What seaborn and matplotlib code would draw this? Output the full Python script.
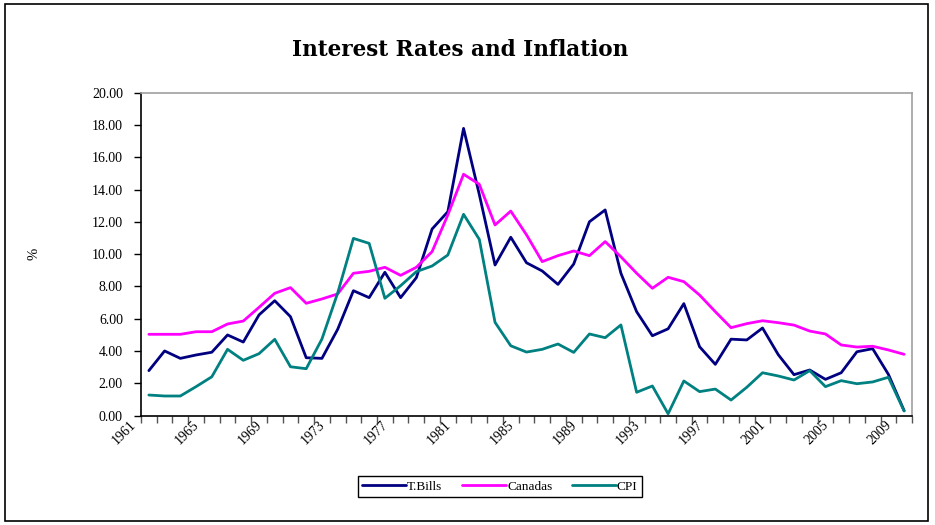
import matplotlib
matplotlib.use("Agg")
import matplotlib.pyplot as plt
import matplotlib.transforms as mtransforms
from matplotlib.patches import Rectangle
from matplotlib.ticker import FixedLocator, NullFormatter
import seaborn as sns
import pandas as pd
import numpy as np

# Annual averages, 1961-2009 (percent)
years = list(range(1961, 2010))

t_bills = [2.79, 4.01, 3.55, 3.76, 3.93, 5.00, 4.56, 6.24, 7.12, 6.13,
           3.59, 3.55, 5.35, 7.74, 7.31, 8.88, 7.31, 8.55, 11.56, 12.63,
           17.79, 13.70, 9.33, 11.05, 9.47, 8.96, 8.13, 9.39, 12.01, 12.74,
           8.82, 6.44, 4.95, 5.38, 6.94, 4.27, 3.18, 4.74, 4.69, 5.43,
           3.78, 2.54, 2.83, 2.25, 2.66, 3.96, 4.15, 2.56, 0.31]

canadas = [5.04, 5.04, 5.04, 5.20, 5.20, 5.68, 5.86, 6.71, 7.58, 7.93,
           6.96, 7.23, 7.54, 8.82, 8.94, 9.19, 8.69, 9.19, 10.16, 12.43,
           14.95, 14.33, 11.81, 12.67, 11.20, 9.54, 9.91, 10.20, 9.91, 10.78,
           9.84, 8.82, 7.89, 8.57, 8.30, 7.47, 6.44, 5.45, 5.70, 5.88,
           5.76, 5.61, 5.24, 5.06, 4.38, 4.25, 4.30, 4.07, 3.80]

cpi = [1.28, 1.22, 1.22, 1.80, 2.41, 4.11, 3.43, 3.84, 4.73, 3.03,
       2.91, 4.75, 7.60, 10.98, 10.67, 7.27, 8.05, 8.92, 9.27, 9.95,
       12.47, 10.92, 5.78, 4.33, 3.94, 4.11, 4.44, 3.92, 5.06, 4.83,
       5.62, 1.45, 1.84, 0.12, 2.15, 1.49, 1.65, 0.97, 1.76, 2.66,
       2.46, 2.21, 2.79, 1.80, 2.17, 1.98, 2.09, 2.38, 0.29]

series_names = ["T.Bills", "Canadas", "CPI"]
series_colors = ["#000080", "#FF00FF", "#008080"]

y_ticks = [0, 2, 4, 6, 8, 10, 12, 14, 16, 18, 20]
x_label_years = list(range(1961, 2010, 4))

df = pd.DataFrame({"Year": years * 3,
                   "Value": t_bills + canadas + cpi,
                   "Series": [s for s in series_names for _ in years]})

sns.set_theme(style="white")
plt.rcParams["font.family"] = ["Liberation Serif", "DejaVu Serif"]
plt.rcParams.update({"text.color": "black", "axes.labelcolor": "black",
                     "xtick.color": "black", "ytick.color": "black"})

fig = plt.figure(figsize=(9.35, 5.25), dpi=100)
ax = fig.add_axes([141 / 935, 1 - 415.7 / 525, (912 - 141) / 935, (415.7 - 92.7) / 525])

sns.lineplot(data=df, x="Year", y="Value", hue="Series", hue_order=series_names,
             palette=series_colors, linewidth=2.0, ax=ax, legend=True,
             estimator=None, sort=False)

ax.set_xlim(years[0] - 0.5, years[-1] + 0.5)
ax.set_ylim(0, 20)

# y axis
ax.set_yticks(y_ticks)
ax.set_yticklabels([f"{v:.2f}" for v in y_ticks], fontsize=10)
ax.tick_params(axis="y", which="major", direction="out", length=5, width=1,
               color="black", labelcolor="black", pad=8, left=True)
ax.set_ylabel("%", fontsize=10.5, rotation=90, color="black")
ax.yaxis.set_label_coords((40 - 141) / 771, 0.5)

# x axis: labels every fourth year, tick marks between categories
ax.set_xticks(x_label_years)
ax.set_xticklabels([str(y) for y in x_label_years], rotation=45, ha="right",
                   fontsize=10)
ax.xaxis.set_minor_locator(FixedLocator(np.arange(years[0] - 0.5, years[-1] + 1.0, 1.0)))
ax.xaxis.set_minor_formatter(NullFormatter())
ax.tick_params(axis="x", which="major", length=0, pad=2, labelcolor="black")
ax.tick_params(axis="x", which="minor", direction="out", length=5, width=1,
               color="#555555", bottom=True)
shift = mtransforms.ScaledTranslation(-10 / 100, 0, fig.dpi_scale_trans)
for lbl in ax.get_xticklabels():
    lbl.set_transform(lbl.get_transform() + shift)
ax.set_xlabel("")

# frame: black axes, grey plot-area border
for side in ["left", "bottom"]:
    ax.spines[side].set_color("black")
    ax.spines[side].set_linewidth(1.2)
for side in ["top", "right"]:
    ax.spines[side].set_color("#A0A0A0")
    ax.spines[side].set_linewidth(1.2)
ax.grid(False)

# title
fig.text(0.492, 1 - 50 / 525, "Interest Rates and Inflation", ha="center",
         va="center", fontsize=15.5, fontweight="bold", family="DejaVu Serif",
         color="black")

# legend below the plot
handles, labels = ax.get_legend_handles_labels()
ax.legend_.remove()
leg = fig.legend(handles, labels, loc="center", bbox_to_anchor=(500 / 935, 1 - 486.5 / 525),
                 ncol=3, frameon=True, fancybox=False, shadow=False, fontsize=9.5,
                 handlelength=3.3, handletextpad=0.1, columnspacing=1.5,
                 borderpad=0.35, edgecolor="black", framealpha=1)
leg.get_frame().set_linewidth(1.0)
for line in leg.get_lines():
    line.set_linewidth(2.0)
for txt in leg.get_texts():
    txt.set_color("black")

# outer chart border
fig.patches.append(Rectangle((5 / 935, 4 / 525), (928 - 5) / 935, (521 - 4) / 525,
                             transform=fig.transFigure, fill=False,
                             edgecolor="black", linewidth=1.2))

fig.savefig("out.png", dpi=100, facecolor="white")
